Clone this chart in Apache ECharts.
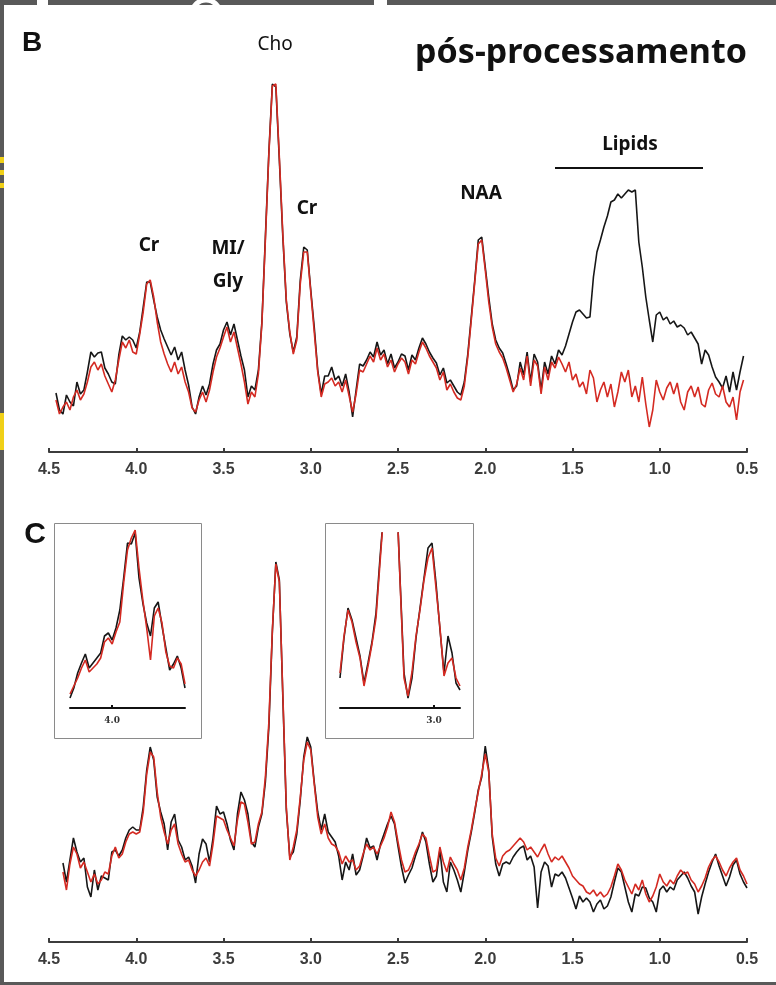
<!DOCTYPE html>
<html>
<head>
<meta charset="utf-8">
<title>MRS pós-processamento</title>
<style>
  html, body { margin: 0; padding: 0; background: #595959; }
  #main { width: 776px; height: 985px; }
</style>
</head>
<body>
<div id="main"></div>
<script src="https://cdn.jsdelivr.net/npm/echarts@6/dist/echarts.min.js"></script>
<script>
// chemical shift sampling (ppm), spectra run from high to low ppm
var ppmStep = 0.02;
var bStart = 4.46;
var cStart = 4.42;
var insetLStart = 4.22;
var insetRStart = 3.47;

var xTicks = [4.5, 4.0, 3.5, 3.0, 2.5, 2.0, 1.5, 1.0, 0.5];
var insetLTicks = [4.0];
var insetRTicks = [3.0];

// painel B - espectro original (preto) e pós-processado (vermelho)
var bBlack = [
  59,42,38,57,50,46,70,58,62,80,
  100,95,99,100,84,78,70,68,97,116,
  112,115,112,104,120,145,170,170,152,135,
  122,113,105,97,105,92,100,82,67,45,
  38,55,66,57,68,88,102,108,122,130,
  117,128,112,96,82,55,66,62,82,130,
  215,300,368,365,292,215,150,118,100,115,
  172,205,202,162,125,82,58,76,76,85,
  72,76,66,78,60,35,62,88,86,92,
  100,95,110,97,102,88,98,84,90,98,
  96,82,97,92,104,114,108,100,94,89,
  77,84,69,72,66,60,57,70,98,135,
  172,212,215,185,155,128,112,104,99,88,
  76,62,66,90,77,100,70,98,90,62,
  90,78,96,88,102,97,106,118,130,140,
  142,138,134,135,175,200,212,225,236,250,
  252,258,254,258,262,260,262,210,185,155,
  132,110,137,140,132,135,128,131,125,127,
  124,117,120,114,108,88,102,97,85,75,
  70,64,76,60,80,62,80,96
];
var bRed = [
  52,38,45,50,42,55,62,52,58,70,
  85,90,82,88,76,68,60,72,92,110,
  104,112,100,98,118,140,168,172,155,130,
  110,98,88,80,90,78,85,70,60,44,
  40,52,60,50,62,80,95,104,115,125,
  110,120,104,88,70,48,60,55,78,128,
  212,298,366,368,295,218,152,120,98,112,
  168,200,200,160,120,80,55,68,70,74,
  66,70,60,72,56,40,58,82,80,88,
  96,90,104,92,98,85,92,80,88,94,
  90,78,92,88,100,110,104,96,90,84,
  72,80,62,68,60,54,52,66,95,132,
  170,208,212,182,150,125,108,100,94,84,
  72,60,68,84,72,96,66,92,86,58,
  85,72,90,84,95,88,80,90,72,78,
  65,70,58,82,74,50,62,70,55,68,
  45,60,80,70,82,55,66,50,75,48,
  25,42,72,60,52,64,70,58,69,50,
  42,60,66,55,65,48,45,62,69,58,
  55,66,50,45,55,32,60,72
];

// painel C
var cBlack = [
  79,60,82,104,90,80,84,55,45,72,
  52,66,64,62,90,92,86,92,104,112,
  115,112,112,135,172,195,182,145,130,118,
  92,120,128,102,95,82,85,76,59,88,
  103,98,80,104,136,128,130,118,102,92,
  128,150,142,128,100,95,115,128,160,215,
  310,380,362,245,132,85,90,108,142,185,
  205,195,160,130,112,128,110,105,100,86,
  62,80,72,88,67,72,86,104,94,96,
  82,98,108,118,126,118,96,75,59,67,
  74,86,96,110,100,78,60,66,92,60,
  50,80,72,62,50,70,92,110,130,152,
  165,196,172,105,78,66,78,80,78,85,
  90,94,96,82,86,75,34,70,80,76,
  55,68,66,70,64,54,44,33,46,40,
  44,40,30,38,42,33,36,45,60,74,
  70,55,40,30,48,46,55,54,44,40,
  30,52,56,50,55,52,62,66,70,64,
  56,50,28,45,58,70,80,88,76,66,
  56,65,77,82,68,60,54
];
var cRed = [
  70,52,78,95,88,74,80,70,60,68,
  58,62,70,68,86,95,84,88,100,108,
  110,108,110,130,168,190,185,150,125,110,
  98,112,118,98,88,80,82,72,66,72,
  80,84,76,98,126,124,122,112,104,96,
  122,140,138,120,98,100,118,130,165,220,
  312,378,360,248,135,82,95,112,145,182,
  200,192,158,125,108,118,104,98,96,90,
  78,86,80,82,72,76,88,98,92,95,
  88,96,104,115,130,120,100,82,70,72,
  80,90,98,108,104,86,70,72,95,80,
  70,85,78,72,62,74,95,112,132,150,
  168,188,170,108,84,76,86,90,92,96,
  100,104,100,92,95,90,85,92,98,88,
  80,85,82,86,80,74,66,62,58,56,
  50,48,52,46,50,45,48,55,66,78,
  72,62,55,48,58,52,62,48,40,46,
  55,68,60,56,62,58,66,72,68,70,
  62,58,50,56,64,75,82,86,80,72,
  66,74,80,84,72,66,58
];

// detalhes (insets) do painel C
var insetLBlack = [10,20,35,45,54,40,45,50,55,72,75,68,80,98,130,165,164,175,130,105,85,72,100,106,82,60,38,44,52,40,20];
var insetLRed   = [14,22,30,40,48,36,40,44,50,66,70,64,76,86,125,158,170,178,140,108,80,48,92,100,85,56,42,40,50,44,24];
var insetRBlack = [30,70,100,88,70,52,25,45,66,95,150,200,260,280,230,130,35,10,30,70,100,130,160,165,125,78,35,72,55,25,18];
var insetRRed   = [35,72,98,86,66,50,22,42,64,90,145,200,260,280,230,128,30,12,36,72,98,128,150,160,120,80,32,45,50,30,22];

function toPairs(start, vals) {
  return vals.map(function (v, i) {
    return [+(start - i * ppmStep).toFixed(3), v];
  });
}

var black = '#161616';
var red = '#d42a22';
var axisColor = '#3c3c3c';

function mainXAxis(gridIndex) {
  return {
    type: 'value', gridIndex: gridIndex, min: 0.5, max: 4.5, inverse: true,
    axisLine: { show: true, onZero: false, lineStyle: { color: axisColor, width: 2 } },
    axisTick: { show: true, inside: true, length: 4, customValues: xTicks, lineStyle: { color: axisColor, width: 2 } },
    axisLabel: {
      customValues: xTicks, margin: 10, color: axisColor,
      fontFamily: 'Liberation Sans', fontWeight: 'bold', fontSize: 16,
      formatter: function (v) { return v.toFixed(1); }
    },
    splitLine: { show: false }
  };
}

function insetXAxis(gridIndex, min, max, ticks) {
  return {
    type: 'value', gridIndex: gridIndex, min: min, max: max, inverse: true,
    axisLine: { show: true, onZero: false, lineStyle: { color: '#111', width: 2 } },
    axisTick: { show: true, inside: true, length: 3, customValues: ticks, lineStyle: { color: '#111', width: 2 } },
    axisLabel: {
      customValues: ticks, margin: 8, color: '#333',
      fontFamily: 'DejaVu Serif', fontWeight: 'bold', fontSize: 9,
      formatter: function (v) { return v.toFixed(1); }
    },
    splitLine: { show: false }
  };
}

function yAx(gridIndex, max) {
  return { type: 'value', gridIndex: gridIndex, min: 0, max: max, show: false };
}

function spec(name, xi, data, color) {
  return {
    name: name, type: 'line', xAxisIndex: xi, yAxisIndex: xi, data: data,
    showSymbol: false, symbol: 'none', clip: true,
    lineStyle: { color: color, width: 1.6 }
  };
}

function label(text, x, y, font) {
  return {
    type: 'text', x: x, y: y, z: 5,
    style: { text: text, fill: '#111', font: font, textAlign: 'center', textVerticalAlign: 'middle' }
  };
}

var lblFont = 'bold 19px "Noto Sans"';

var myChart = echarts.init(document.getElementById('main'), null, { renderer: 'canvas' });

var option = {
  animation: false,
  backgroundColor: '#595959',
  grid: [
    { left: 49, width: 698, top: 52, height: 400 },
    { left: 49, width: 698, top: 542, height: 400 },
    { left: 70, width: 115, top: 523, height: 185 },
    { left: 340, width: 120, top: 533, height: 175 }
  ],
  xAxis: [
    mainXAxis(0),
    mainXAxis(1),
    insetXAxis(2, 3.62, 4.22, insetLTicks),
    insetXAxis(3, 2.87, 3.47, insetRTicks)
  ],
  yAxis: [yAx(0, 400), yAx(1, 400), yAx(2, 185), yAx(3, 175)],
  series: [
    spec('B original', 0, toPairs(bStart, bBlack), black),
    spec('B pós', 0, toPairs(bStart, bRed), red),
    spec('C original', 1, toPairs(cStart, cBlack), black),
    spec('C pós', 1, toPairs(cStart, cRed), red),
    spec('C 4.0 original', 2, toPairs(insetLStart, insetLBlack), black),
    spec('C 4.0 pós', 2, toPairs(insetLStart, insetLRed), red),
    spec('C 3.0 original', 3, toPairs(insetRStart, insetRBlack), black),
    spec('C 3.0 pós', 3, toPairs(insetRStart, insetRRed), red)
  ],
  graphic: {
    elements: [
      // moldura do slide
      { type: 'circle', shape: { cx: 206, cy: 14, r: 14 }, style: { fill: 'none', stroke: '#fff', lineWidth: 5 }, z: 0 },
      { type: 'rect', shape: { x: 4, y: 5, width: 772, height: 977 }, style: { fill: '#fff' }, z: 0 },
      { type: 'rect', shape: { x: 37, y: 0, width: 11, height: 6 }, style: { fill: '#fff' }, z: 0 },
      { type: 'rect', shape: { x: 374, y: 0, width: 13, height: 6 }, style: { fill: '#fff' }, z: 0 },
      { type: 'rect', shape: { x: 0, y: 157, width: 4, height: 6 }, style: { fill: '#f0d018' }, z: 0 },
      { type: 'rect', shape: { x: 0, y: 170, width: 4, height: 5 }, style: { fill: '#f0d018' }, z: 0 },
      { type: 'rect', shape: { x: 0, y: 183, width: 4, height: 5 }, style: { fill: '#f0d018' }, z: 0 },
      { type: 'rect', shape: { x: 0, y: 413, width: 4, height: 37 }, style: { fill: '#f0d018' }, z: 0 },
      // caixas dos detalhes
      { type: 'rect', shape: { x: 54.5, y: 523.5, width: 147, height: 215 }, style: { fill: 'none', stroke: '#8a8a8a', lineWidth: 1 }, z: 1 },
      { type: 'rect', shape: { x: 325.5, y: 523.5, width: 148, height: 215 }, style: { fill: 'none', stroke: '#8a8a8a', lineWidth: 1 }, z: 1 },
      // barra dos lipídios
      { type: 'line', shape: { x1: 555, y1: 168, x2: 703, y2: 168 }, style: { stroke: '#111', lineWidth: 2 }, z: 1 },
      label('B', 32, 43, 'bold 28px "Liberation Sans"'),
      label('C', 35, 535, 'bold 30px "Liberation Sans"'),
      label('pós-processamento', 581, 53, 'bold 34px "Noto Sans"'),
      label('Cho', 275, 45, '19px "Noto Sans"'),
      label('Cr', 149, 246, lblFont),
      label('MI/', 228, 249, lblFont),
      label('Gly', 228, 282, lblFont),
      label('Cr', 307, 209, lblFont),
      label('NAA', 481, 194, lblFont),
      label('Lipids', 630, 145, lblFont)
    ]
  }
};

myChart.setOption(option);
</script>
</body>
</html>
